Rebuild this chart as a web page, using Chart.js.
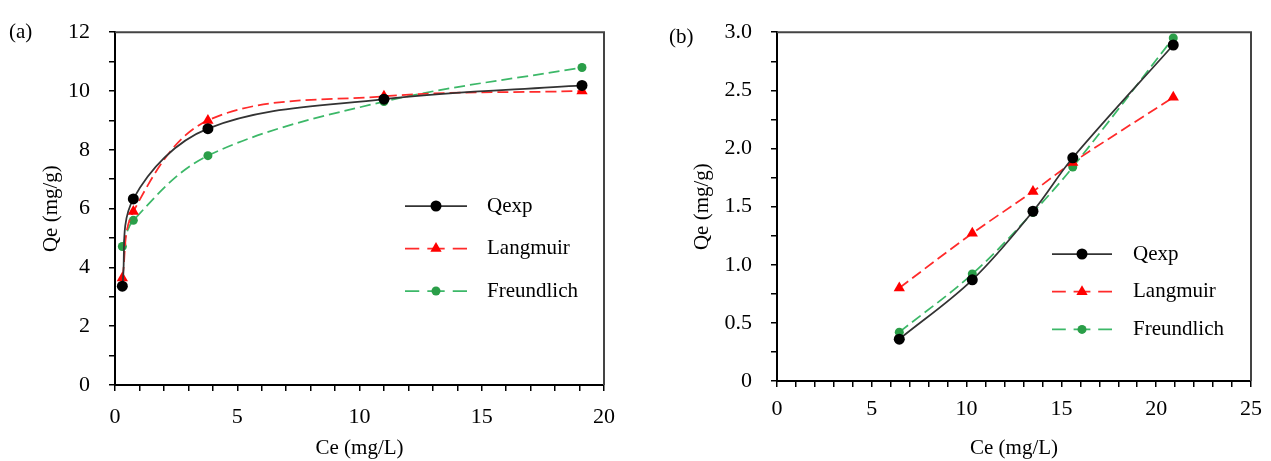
<!DOCTYPE html>
<html>
<head>
<meta charset="utf-8">
<script src="https://cdn.jsdelivr.net/npm/chart.js@4.4.1/dist/chart.umd.min.js"></script>
<style>
  body { margin: 0; background: #fff; width: 1271px; height: 461px; overflow: hidden; position: relative; font-family: "Liberation Serif", serif; }
  .panel { position: absolute; top: 0; height: 461px; }
  #wrapA { left: 0; width: 640px; }
  #wrapB { left: 640px; width: 631px; }
  .tag { position: absolute; font-size: 21px; line-height: 1; color: #000; }
</style>
</head>
<body>
<div class="panel" id="wrapA"><canvas id="chartA" width="640" height="461"></canvas></div>
<div class="panel" id="wrapB"><canvas id="chartB" width="631" height="461"></canvas></div>
<div class="tag" style="left:9px; top:21px;">(a)</div>
<div class="tag" style="left:669px; top:26px;">(b)</div>
<script>
// (a) data
const ceA = [0.3, 0.75, 3.8, 11.0, 19.1];
const qexpA = [3.36, 6.33, 8.72, 9.72, 10.19];
const langA = [3.64, 5.9, 9.0, 9.82, 10.0];
const freuA = [4.71, 5.6, 7.8, 9.64, 10.8];

// (b) data
const ceB = [6.45, 10.3, 13.5, 15.6, 20.9];
const qexpB = [0.36, 0.87, 1.46, 1.92, 2.89];
const langB = [0.8, 1.27, 1.63, 1.88, 2.44];
const freuB = [0.42, 0.92, 1.45, 1.84, 2.95];

const seriesNames = ["Qexp", "Langmuir", "Freundlich"];

const FONT = '"Liberation Serif", "Times New Roman", serif';

// legend drawn as line + marker + label, like the original
const lineLegend = {
  id: "lineLegend",
  afterDraw(chart, args, opts) {
    const ctx = chart.ctx;
    chart.data.datasets.forEach((ds, i) => {
      const y = opts.y + i * opts.gap;
      const x0 = opts.x, L = opts.len;
      ctx.save();
      ctx.strokeStyle = ds.borderColor;
      ctx.lineWidth = ds.borderWidth;
      ctx.beginPath();
      if (ds.borderDash) {
        // dash - gap - dash(with marker) - gap - dash
        const segs = [[0, 0.23], [0.36, 0.64], [0.77, 1]];
        segs.forEach(([a, b]) => { ctx.moveTo(x0 + a * L, y); ctx.lineTo(x0 + b * L, y); });
      } else {
        ctx.moveTo(x0, y);
        ctx.lineTo(x0 + L, y);
      }
      ctx.stroke();
      ctx.fillStyle = ds.pointBackgroundColor;
      Chart.helpers.drawPoint(ctx, {
        pointStyle: ds.pointStyle, radius: ds.pointRadius, borderWidth: 0, rotation: 0
      }, x0 + L / 2, y);
      ctx.fillStyle = "#000";
      ctx.font = "21px " + FONT;
      ctx.textBaseline = "middle";
      ctx.textAlign = "left";
      ctx.fillText(ds.label, x0 + L + opts.textGap, y);
      ctx.restore();
    });
  }
};

// top and right edges of the plot box
const frame = {
  id: "frame",
  beforeDatasetsDraw(chart) {
    const { ctx, chartArea: a } = chart;
    ctx.save();
    ctx.strokeStyle = "#444";
    ctx.lineWidth = 2;
    ctx.beginPath();
    ctx.moveTo(a.left, a.top);
    ctx.lineTo(a.right, a.top);
    ctx.lineTo(a.right, a.bottom);
    ctx.stroke();
    ctx.restore();
  }
};

function makeSets(ce, qexp, lang, freu) {
  const pts = (ys) => ce.map((x, i) => ({ x: x, y: ys[i] }));
  return [
    {
      label: seriesNames[0], data: pts(qexp),
      borderColor: "#333", borderWidth: 1.75,
      pointStyle: "circle", pointRadius: 5.5,
      pointBackgroundColor: "#000", pointBorderWidth: 0,
      tension: 0.35, clip: false
    },
    {
      label: seriesNames[1], data: pts(lang),
      borderColor: "#ff2a2a", borderWidth: 1.75, borderDash: [11, 5],
      pointStyle: "triangle", pointRadius: 6.5,
      pointBackgroundColor: "#ff0000", pointBorderWidth: 0,
      tension: 0.35, clip: false
    },
    {
      label: seriesNames[2], data: pts(freu),
      borderColor: "#3cb868", borderWidth: 1.75, borderDash: [11, 5],
      pointStyle: "circle", pointRadius: 4.5,
      pointBackgroundColor: "#2a9e48", pointBorderWidth: 0,
      tension: 0.35, clip: false
    }
  ];
}

function axisCommon() {
  return {
    type: "linear",
    border: { color: "#000", width: 2 },
    grid: { display: true, drawOnChartArea: false, drawTicks: true, tickLength: 6, color: "#000", lineWidth: 1.5 },
  };
}

function makeChart(id, cfg) {
  const x = Object.assign(axisCommon(), {
    min: 0, max: cfg.xMax,
    afterFit: (s) => { s.height = cfg.xHeight; },
    ticks: {
      stepSize: 1, autoSkip: false, maxRotation: 0, padding: cfg.xPad, color: "#000",
      font: { family: FONT, size: 22 },
      callback: (v) => (v % 5 === 0 ? String(v) : "")
    },
    title: { display: true, text: "Ce (mg/L)", color: "#000", font: { family: FONT, size: 21 }, padding: { top: 0, bottom: 0 } }
  });
  const y = Object.assign(axisCommon(), {
    min: 0, max: cfg.yMax,
    afterFit: (s) => { s.width = cfg.yWidth; },
    ticks: {
      stepSize: cfg.yStep, autoSkip: false, padding: 19, color: "#000",
      font: { family: FONT, size: 22 },
      callback: cfg.yLabel
    },
    title: { display: true, text: "Qe (mg/g)", color: "#000", font: { family: FONT, size: 21 }, padding: { top: cfg.yTitlePad, bottom: 0 } }
  });
  return new Chart(document.getElementById(id), {
    type: "line",
    data: { datasets: cfg.datasets },
    options: {
      responsive: false,
      animation: false,
      layout: { padding: { left: 0, top: 28, right: cfg.padRight, bottom: 0 } },
      scales: { x: x, y: y },
      plugins: {
        legend: { display: false },
        tooltip: { enabled: false },
        lineLegend: cfg.legend
      }
    },
    plugins: [frame, lineLegend]
  });
}

makeChart("chartA", {
  datasets: makeSets(ceA, qexpA, langA, freuA),
  xMax: 20, yMax: 12, yStep: 1,
  yLabel: (v) => (v % 2 === 0 ? String(v) : ""),
  xHeight: 76, yWidth: 115, padRight: 36, xPad: 13, yTitlePad: 39,
  legend: { x: 405, y: 206, gap: 42.5, len: 62, textGap: 20 }
});

makeChart("chartB", {
  datasets: makeSets(ceB, qexpB, langB, freuB),
  xMax: 25, yMax: 3, yStep: 0.25,
  yLabel: (v) => (Math.abs(v * 2 - Math.round(v * 2)) < 1e-9 ? (v === 0 ? "0" : v.toFixed(1)) : ""),
  xHeight: 80, yWidth: 137, padRight: 15, xPad: 9, yTitlePad: 50,
  legend: { x: 412, y: 254, gap: 37.7, len: 60, textGap: 21 }
});
</script>
</body>
</html>
